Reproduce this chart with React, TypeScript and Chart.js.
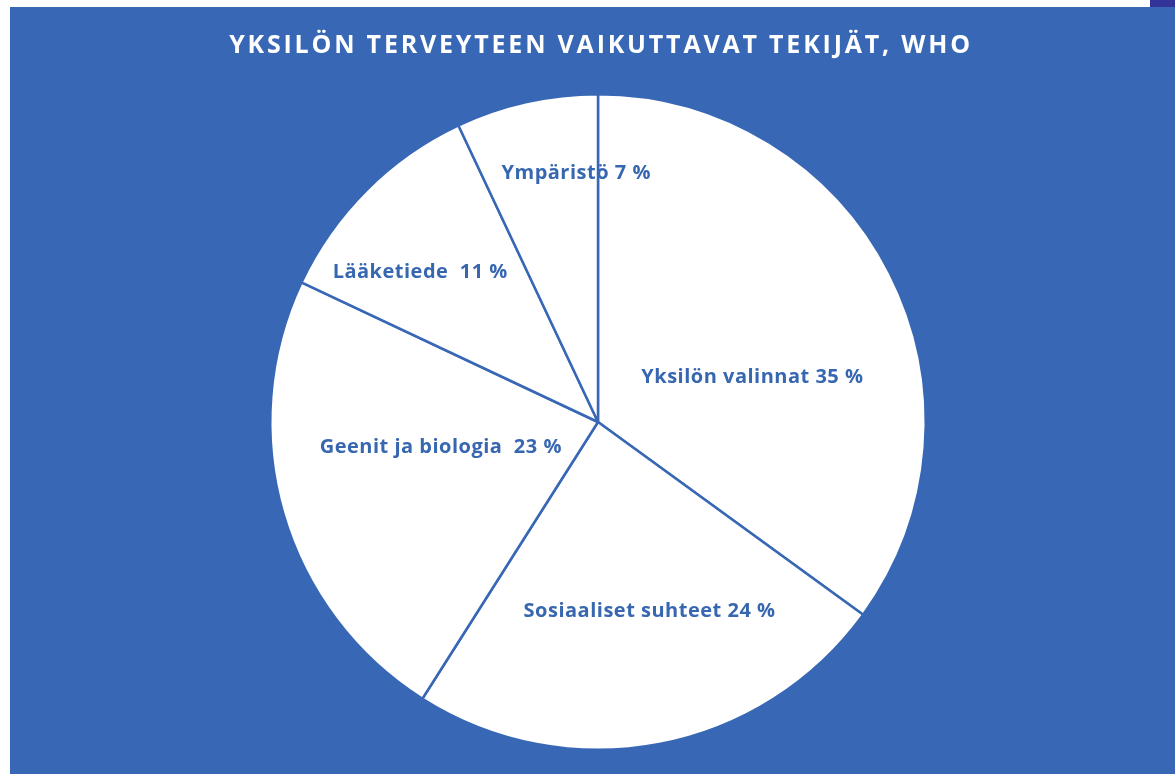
import React, { useEffect, useRef } from "react";
import { Chart, registerables } from "chart.js";

Chart.register(...registerables);

const TITLE = "YKSILÖN TERVEYTEEN VAIKUTTAVAT TEKIJÄT, WHO";
const categories = ["Yksilön valinnat", "Sosiaaliset suhteet", "Geenit ja biologia", "Lääketiede", "Ympäristö"];
const values = [35, 24, 23, 11, 7];
const labelTexts = ["Yksilön valinnat 35 %", "Sosiaaliset suhteet 24 %", "Geenit ja biologia  23 %", "Lääketiede  11 %", "Ympäristö 7 %"];

const BG = "#3868B5";
const TEXT_BLUE = "#3767B0";

// label placement: angle (deg, clockwise from top) shift relative to slice middle, and radius fraction
const labelPlacement = [
  { dAngle: 11, r: 0.49 },
  { dAngle: -4.4, r: 0.6 },
  { dAngle: 6.9, r: 0.486 },
  { dAngle: -4.8, r: 0.71 },
  { dAngle: 7.6, r: 0.763 },
];

const titlePlugin = {
  id: "spacedTitle",
  afterDraw(chart: any) {
    const ctx = chart.ctx;
    ctx.save();
    ctx.font = "bold 25px 'Open Sans'";
    (ctx as any).letterSpacing = "2.8px";
    ctx.fillStyle = "#ffffff";
    ctx.textAlign = "center";
    ctx.textBaseline = "middle";
    ctx.fillText(TITLE, chart.width / 2 + 8.5, 39);
    ctx.restore();
  },
};

const labelPlugin = {
  id: "sliceLabels",
  afterDatasetsDraw(chart: any) {
    const meta = chart.getDatasetMeta(0);
    const ctx = chart.ctx;
    ctx.save();
    ctx.font = "bold 20px 'Open Sans'";
    (ctx as any).letterSpacing = "0.5px";
    ctx.fillStyle = TEXT_BLUE;
    ctx.textAlign = "center";
    ctx.textBaseline = "middle";
    meta.data.forEach((arc: any, i: number) => {
      const p = arc.getProps(["x", "y", "startAngle", "endAngle", "outerRadius"], true);
      const mid = (p.startAngle + p.endAngle) / 2 + (labelPlacement[i].dAngle * Math.PI) / 180;
      const rr = p.outerRadius * labelPlacement[i].r;
      ctx.fillText(labelTexts[i], p.x + Math.cos(mid) * rr, p.y + Math.sin(mid) * rr);
    });
    ctx.restore();
  },
};

export default function App() {
  const ref = useRef<HTMLCanvasElement>(null);
  useEffect(() => {
    if (!ref.current) return;
    const chart = new Chart(ref.current, {
      type: "pie",
      data: {
        labels: categories,
        datasets: [
          {
            data: values,
            backgroundColor: "#ffffff",
            borderColor: BG,
            borderWidth: 2.5,
          },
        ],
      },
      options: {
        animation: false,
        responsive: false,
        maintainAspectRatio: false,
        layout: { padding: { left: 11, right: 0, top: 86, bottom: 23 } },
        plugins: {
          legend: { display: false },
          tooltip: { enabled: false },
          title: { display: false },
        },
      },
      plugins: [labelPlugin, titlePlugin],
    });
    return () => chart.destroy();
  }, []);
  return (
    <div style={{ position: "absolute", left: 0, top: 0, width: 1175, height: 774, background: "#fff" }}>
      <div style={{ position: "absolute", left: 10, top: 7, width: 1165, height: 767, background: BG }}>
        <canvas ref={ref} width={1165} height={767} style={{ display: "block" }} />
      </div>
      <div style={{ position: "absolute", left: 1150, top: 0, width: 25, height: 7, background: "#33339A" }} />
    </div>
  );
}
